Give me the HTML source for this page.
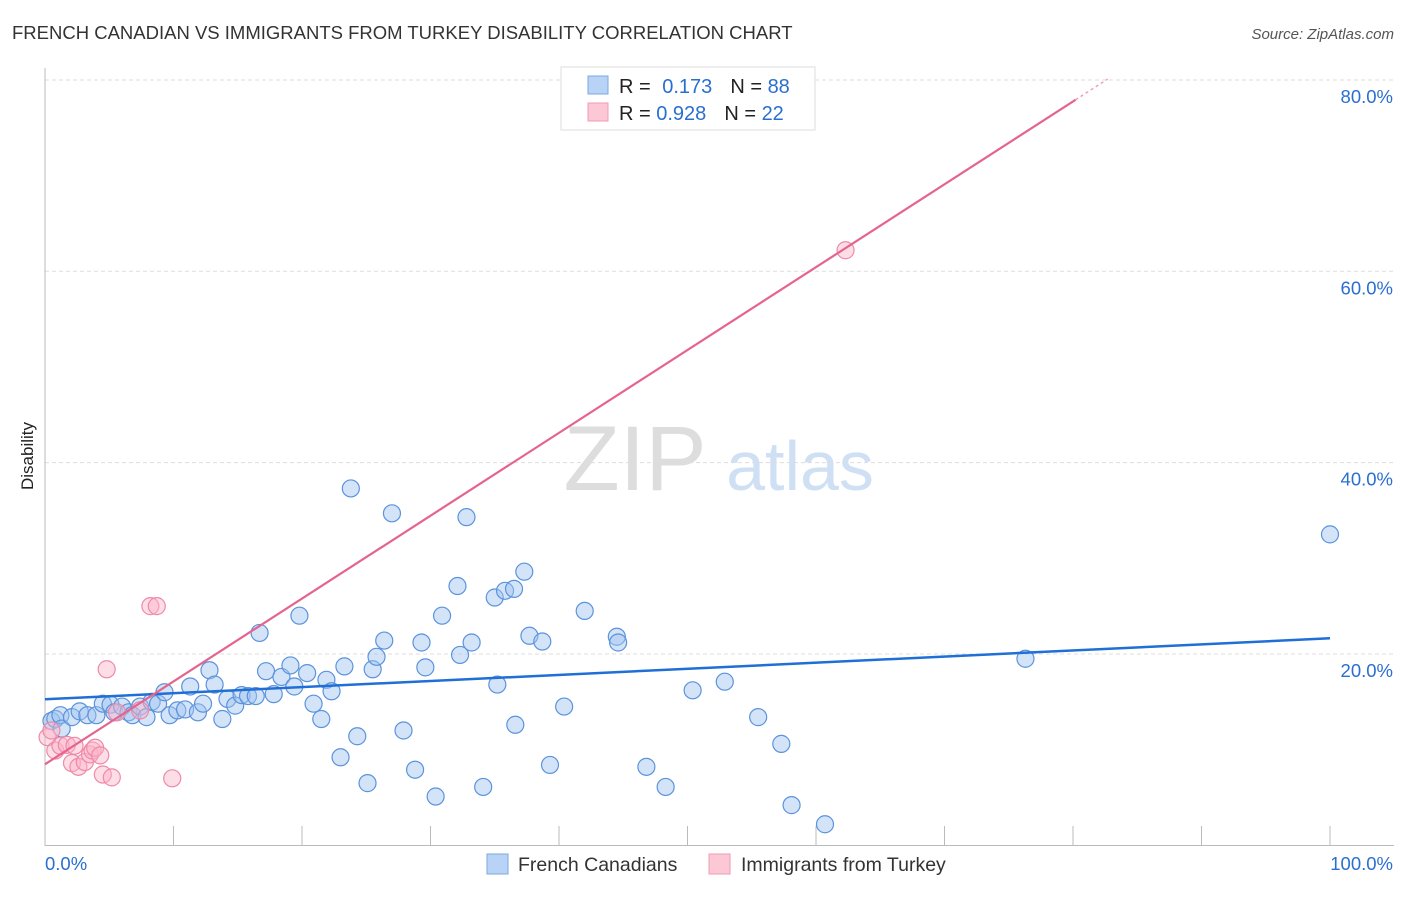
<!DOCTYPE html>
<html><head><meta charset="utf-8"><style>
body{margin:0;background:#fff;font-family:"Liberation Sans",sans-serif}
svg text{font-family:"Liberation Sans",sans-serif}
</style></head><body>
<svg id="c" width="1406" height="892" xmlns="http://www.w3.org/2000/svg">
<text x="12" y="39" font-size="18.5" fill="#333">FRENCH CANADIAN VS IMMIGRANTS FROM TURKEY DISABILITY CORRELATION CHART</text>
<text x="1394" y="39" font-size="15" fill="#555" font-style="italic" text-anchor="end">Source: ZipAtlas.com</text>
<text x="33" y="456" font-size="17" fill="#222" text-anchor="middle" transform="rotate(-90 33 456)">Disability</text>
<g><text x="635" y="490" font-size="92" fill="#ddd" font-family="Liberation Serif" text-anchor="middle">ZIP</text><text x="800" y="490" font-size="70" fill="#cfe0f5" text-anchor="middle">atlas</text></g>
<g id="grid"></g><g id="axes"></g><g id="pts"></g><g id="lines"></g>
<g>
<rect x="561" y="67" width="254" height="63" fill="#fff" stroke="#ddd"/>
<rect x="588" y="76" width="20" height="18" fill="#b8d3f5" stroke="#7aa8e0"/>
<rect x="588" y="103" width="20" height="18" fill="#fcc8d6" stroke="#f09ab2"/>
<text x="619" y="93" font-size="20" fill="#222">R = <tspan fill="#2a6fd0" dx="6">0.173</tspan><tspan dx="18" fill="#222">N = </tspan><tspan fill="#2a6fd0">88</tspan></text>
<text x="619" y="120" font-size="20" fill="#222">R = <tspan fill="#2a6fd0">0.928</tspan><tspan dx="18" fill="#222">N = </tspan><tspan fill="#2a6fd0">22</tspan></text>
</g>
<g>
<rect x="487" y="854" width="21" height="20" fill="#b8d3f5" stroke="#7aa8e0"/>
<text x="518" y="871" font-size="19.5" fill="#333">French Canadians</text>
<rect x="709" y="854" width="21" height="20" fill="#fcc8d6" stroke="#f09ab2"/>
<text x="741" y="871" font-size="19.5" fill="#333">Immigrants from Turkey</text>
</g>
</svg>
<script>
const yTicks=[20,40,60,80];
const yTickLabels=["20.0%","40.0%","60.0%","80.0%"];
const xTickLabels=["0.0%","100.0%"];
const blueX=[0.5,0.8,1.2,1.3,2.1,2.7,3.3,4.0,4.5,5.1,5.4,6.0,6.5,6.8,7.4,7.9,8.3,8.8,9.3,9.7,10.3,10.9,11.3,11.9,12.3,12.8,13.2,13.8,14.2,14.8,15.3,15.8,16.4,16.7,17.2,17.8,18.4,19.1,19.4,19.8,20.4,20.9,21.5,21.9,22.3,23.0,23.3,23.8,24.3,25.1,25.5,25.8,26.4,27.0,27.9,28.8,29.3,29.6,30.4,30.9,32.1,32.3,32.8,33.2,34.1,35.0,35.2,35.8,36.5,36.6,37.3,37.7,38.7,39.3,40.4,42.0,44.5,44.6,46.8,48.3,50.4,52.9,55.5,57.3,58.1,60.7,76.3,100];
const blueY=[13.0,13.2,13.6,12.2,13.4,14.0,13.6,13.6,14.8,14.7,13.9,14.5,13.9,13.6,14.5,13.4,15.0,14.8,16.0,13.6,14.1,14.2,16.6,13.9,14.8,18.3,16.8,13.2,15.3,14.6,15.7,15.6,15.6,22.2,18.2,15.8,17.6,18.8,16.6,24.0,18.0,14.8,13.2,17.3,16.1,9.2,18.7,37.3,11.4,6.5,18.4,19.7,21.4,34.7,12.0,7.9,21.2,18.6,5.1,24.0,27.1,19.9,34.3,21.2,6.1,25.9,16.8,26.6,26.8,12.6,28.6,21.9,21.3,8.4,14.5,24.5,21.8,21.2,8.2,6.1,16.2,17.1,13.4,10.6,4.2,2.2,19.5,32.5];
const pinkX=[0.2,0.5,0.8,1.2,1.7,2.1,2.3,2.6,3.1,3.5,3.7,3.9,4.3,4.5,4.8,5.2,5.6,7.4,8.2,8.7,9.9,62.3];
const pinkY=[11.3,12.0,9.9,10.4,10.5,8.6,10.4,8.2,8.7,9.5,9.9,10.2,9.4,7.4,18.4,7.1,13.9,14.1,25.0,25.0,7.0,62.2];
const blueLine=[15.26,21.64];
const pinkLine=[8.47,0.866];
const X=v=>45+v*12.85, Y=v=>845.3-v*9.567;
const NS="http://www.w3.org/2000/svg";
function mk(t,a,p){const e=document.createElementNS(NS,t);for(const k in a)e.setAttribute(k,a[k]);p.appendChild(e);return e;}
const grid=document.getElementById('grid'),axes=document.getElementById('axes'),pts=document.getElementById('pts'),lines=document.getElementById('lines');
yTicks.forEach((t,i)=>{
 const g=mk('line',{x1:45,x2:1394,y1:Y(t),y2:Y(t),stroke:'#ddd','stroke-dasharray':'4,3'},grid);
 
 
 const l=mk('text',{x:1393,y:Y(t)+23,'font-size':18.5,fill:'#2a6fd0','text-anchor':'end'},axes);
 l.textContent=yTickLabels[i];
 
 
});
const ax=mk('line',{x1:45,x2:1394,y1:845.5,y2:845.5,stroke:'#bbb'},axes);


const ay=mk('line',{x1:45,x2:45,y1:68,y2:846,stroke:'#bbb'},axes);


for(let i=1;i<=10;i++){const tk=mk('line',{x1:X(i*10),x2:X(i*10),y1:826,y2:846,stroke:'#bbb'},axes);
 
 }
const xl0=mk('text',{x:45,y:870,'font-size':18.5,fill:'#2a6fd0'},axes);xl0.textContent=xTickLabels[0];


const xl1=mk('text',{x:1393,y:870,'font-size':18.5,fill:'#2a6fd0','text-anchor':'end'},axes);xl1.textContent=xTickLabels[1];


blueX.forEach((v,i)=>{const c=mk('circle',{cx:X(v),cy:Y(blueY[i]),r:8.5,fill:'rgba(160,196,240,0.45)',stroke:'#5b93dc','stroke-width':1.2},pts);
 
 });
pinkX.forEach((v,i)=>{const c=mk('circle',{cx:X(v),cy:Y(pinkY[i]),r:8.5,fill:'rgba(250,180,200,0.45)',stroke:'#ee8aa8','stroke-width':1.2},pts);
 
 });
const bl=mk('line',{x1:X(0),y1:Y(blueLine[0]),x2:X(100),y2:Y(blueLine[1]),stroke:'#1f6fd6','stroke-width':2.5},lines);


const pl=mk('line',{x1:X(0),y1:Y(pinkLine[0]),x2:X(80.2),y2:Y(pinkLine[0]+pinkLine[1]*80.2),stroke:'#e5648e','stroke-width':2.2},lines);


const pd=mk('line',{x1:X(80.2),y1:Y(pinkLine[0]+pinkLine[1]*80.2),x2:X(82.7),y2:Y(pinkLine[0]+pinkLine[1]*82.7),stroke:'#f0a0b8','stroke-width':1.5,'stroke-dasharray':'3,3'},lines);


</script>
</body></html>
